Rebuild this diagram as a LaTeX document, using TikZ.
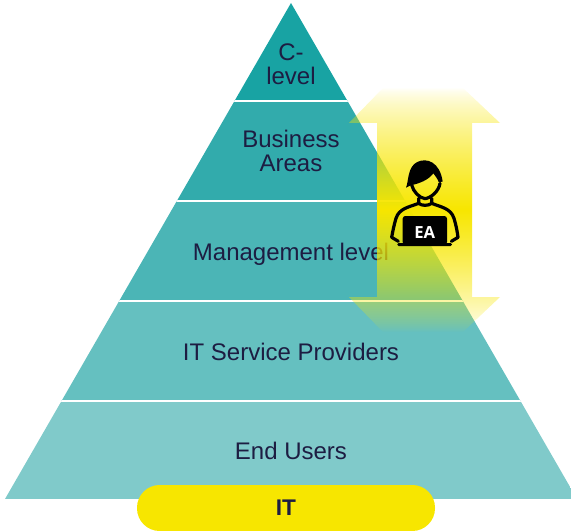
\documentclass[tikz,border=0pt]{standalone}
\usepackage{fontspec}
\setmainfont{Liberation Sans}
\newfontfamily\eafont{Open Sans}
\definecolor{navy}{HTML}{1D1D42}
\definecolor{eayellow}{HTML}{F7E600}
\definecolor{bandA}{HTML}{18A3A3}
\definecolor{bandB}{HTML}{32ABAC}
\definecolor{bandC}{HTML}{4BB5B6}
\definecolor{bandD}{HTML}{65C0C0}
\definecolor{bandE}{HTML}{80CACA}
\begin{document}
\begin{tikzpicture}[
    x=.75pt, y=-.75pt,
    every node/.style={inner sep=0pt, align=center},
    levellabel/.style={text=navy, font=\fontsize{18}{18}\selectfont},
    sepline/.style={draw=white, line width=1.5pt},
    iconline/.style={draw=black, line width=2.4pt, line cap=round, line join=round}]

\useasboundingbox (0,0) rectangle (571,531);

% pyramid
\coordinate (apex) at (291,3);
\coordinate (baseleft) at (5,499);
\coordinate (baseright) at (577,499);
\begin{scope}
    \clip (apex) -- (baseleft) -- (baseright) -- cycle;
    \foreach \ytop/\ybot/\bandcol in {0/101/bandA, 101/201/bandB, 201/301/bandC, 301/401/bandD, 401/499/bandE}
        \fill[\bandcol] (0,\ytop) rectangle (600,\ybot);
    \foreach \ysep in {101,201,301,401}
        \draw[sepline] (0,\ysep) -- (600,\ysep);
\end{scope}

\node[levellabel] (clevel) at (291,64) {C-\\level};
\node[levellabel] (business) at (291,151) {Business\\Areas};
\node[levellabel] (management) at (291,254) {Management level};
\node[levellabel] (providers) at (291,352) {IT Service Providers};
\node[levellabel] (endusers) at (291,451) {End Users};

% arrow
\begin{scope}
    \clip (383,88) -- (463,88) -- (500,123) -- (472,123) -- (472,297)
        -- (500,297) -- (463,332) -- (383,332) -- (349,297) -- (377,297) -- (377,123) -- (349,123) -- cycle;
    \foreach \yrow in {88,...,331} {
        \pgfmathsetmacro{\rowop}{max(0.001,1-abs(\yrow+.5-210)/122)^0.75}
        \fill[eayellow, opacity=\rowop] (340,\yrow) rectangle (510,\yrow+1);
    }
\end{scope}

% person
\begin{scope}[shift={(380,150)}, x=.25pt, y=-.25pt]
    \fill[black] (78,113) .. controls (86,95) and (82,50) .. (112,36)
        .. controls (140,22) and (180,36) .. (188,95) -- (176,96)
        .. controls (172,85) and (166,78) .. (160,70)
        .. controls (145,90) and (120,100) .. (92,106) -- cycle;
    \draw[iconline] (95,105) .. controls (100,125) and (118,144) .. (135,146)
        .. controls (152,144) and (176,125) .. (180,100);
    \draw[iconline] (116,145) -- (116,160) .. controls (125,168) and (145,168) .. (155,160) -- (155,145);
    \draw[iconline] (116,160) .. controls (85,172) and (58,175) .. (48,205)
        .. controls (42,225) and (38,245) .. (35,262) -- (55,274);
    \draw[iconline] (155,160) .. controls (185,172) and (212,175) .. (222,205)
        .. controls (228,225) and (232,245) .. (234,262) -- (214,274);
    \fill[black, rounded corners=2pt] (68,198) rectangle (201,284);
    \fill[black, rounded corners=1pt] (52,279) rectangle (216,288);
    \node[text=white, font=\eafont\bfseries\fontsize{12.5}{12.5}\selectfont] (ealabel) at (134,248) {EA};
\end{scope}

% pill
\node[fill=eayellow, rounded corners=17pt, minimum width=223.5pt, minimum height=34.5pt,
    font=\bfseries\fontsize{17}{17}\selectfont, text=navy] (itpill) at (286,508) {IT};

\end{tikzpicture}
\end{document}
